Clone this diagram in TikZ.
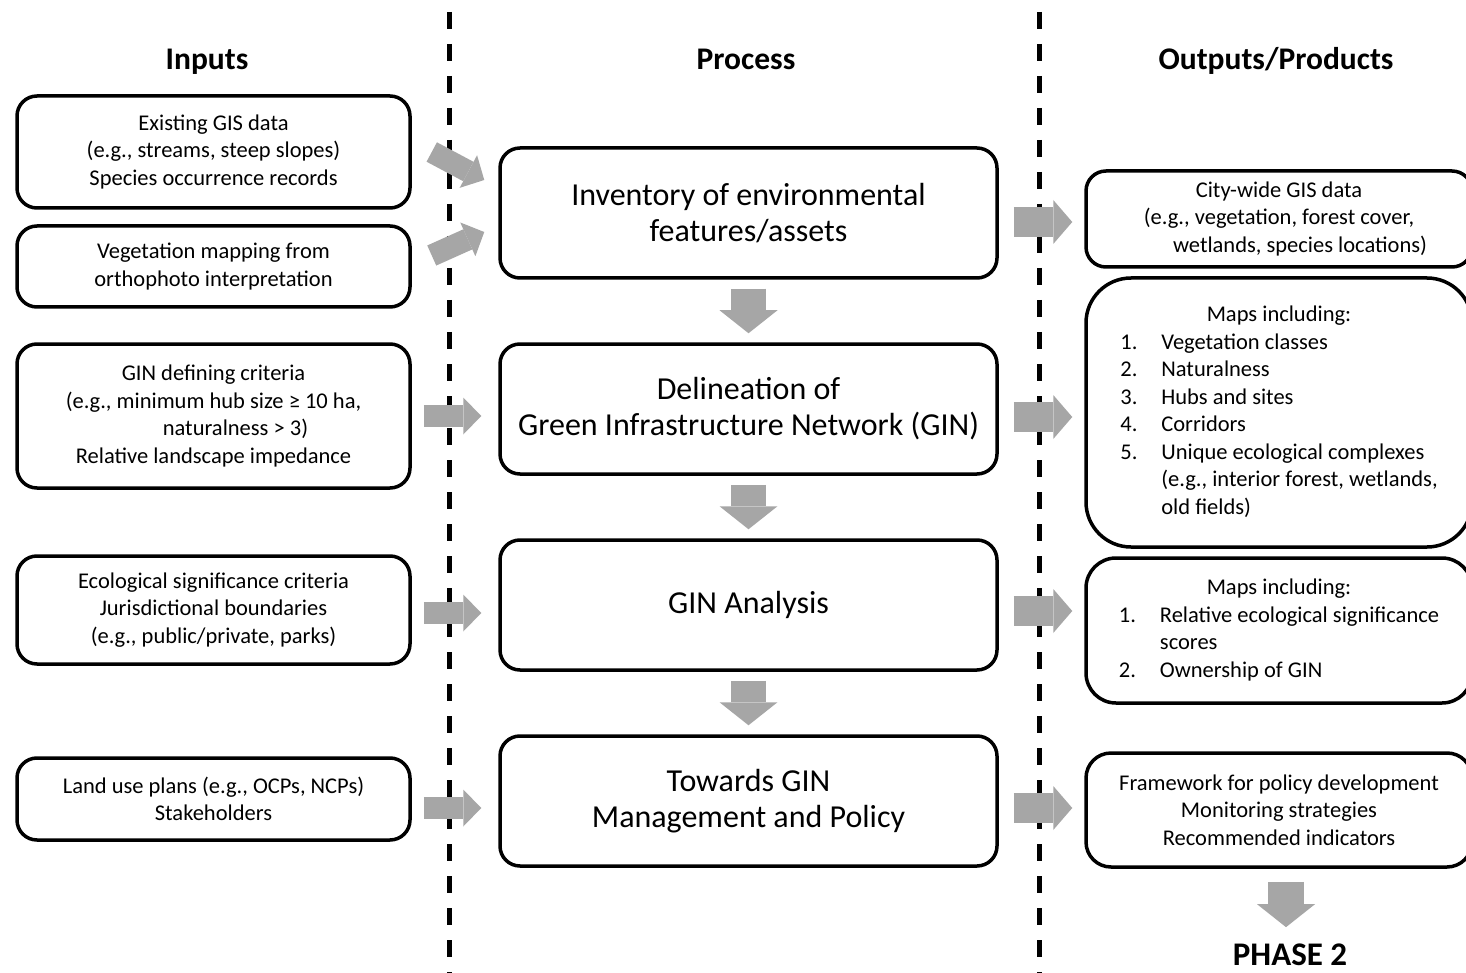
\documentclass[tikz,border=0pt]{standalone}
\usepackage{fontspec}
\setmainfont{Carlito}
\usetikzlibrary{arrows.meta,calc}
\definecolor{arrowgray}{RGB}{166,166,166}
\begin{document}
\begin{tikzpicture}[x=1pt,y=-1pt,
  box/.style={draw=black, line width=3.5pt, rounded corners=20pt, align=center, inner sep=0pt,
              font=\fontsize{22.5}{27.5}\selectfont},
  inbox/.style={box, minimum width=393pt},
  pbox/.style={box, minimum width=497pt, minimum height=130pt, font=\fontsize{32}{36}\selectfont},
  obox/.style={box, minimum width=386pt},
  hdr/.style={inner sep=0pt, anchor=base, font=\fontsize{31.5}{36}\selectfont\bfseries},
  dashline/.style={draw=black, line width=5pt, dash pattern=on 17pt off 15pt},
  larrow/.style={draw=arrowgray, line width=22pt, -{Triangle[length=18pt,width=37pt,line width=0pt]}},
  rarrow/.style={draw=arrowgray, line width=30pt, -{Triangle[length=19pt,width=44pt,line width=0pt]}},
  darrow/.style={draw=arrowgray, line width=35pt, -{Triangle[length=23pt,width=58pt,line width=0pt]}},
]
\clip (0,0) rectangle (1466,973);
\fill[white] (0,0) rectangle (1466,973);

% dashed separators
\coordinate (d1t) at (449,12);
\coordinate (d1b) at (449,980);
\coordinate (d2t) at (1039,12);
\coordinate (d2b) at (1039,980);
\draw[dashline] (d1t) -- (d1b);
\draw[dashline] (d2t) -- (d2b);

% headers
\node[hdr] (hin) at (207,70) {Inputs};
\node[hdr] (hpr) at (746,70) {Process};
\node[hdr] (hout) at (1276,70) {Outputs/Products};

% inputs
\node[inbox, minimum height=112pt] (in1) at (213.5,152) {Existing GIS data\\(e.g., streams, steep slopes)\\Species occurrence records};
\node[inbox, minimum height=81pt] (in2) at (213.5,266.5) {Vegetation mapping from\\orthophoto interpretation};
\node[inbox, minimum height=144pt] (in3) at (213.5,416) {GIN defining criteria\\(e.g., minimum hub size ≥ 10 ha,\\\hspace*{44pt}naturalness > 3)\\Relative landscape impedance};
\node[inbox, minimum height=108pt] (in4) at (213.5,610) {Ecological significance criteria\\Jurisdictional boundaries\\(e.g., public/private, parks)};
\node[inbox, minimum height=82pt] (in5) at (213.5,799) {Land use plans (e.g., OCPs, NCPs)\\Stakeholders};

% process
\node[pbox] (p1) at (748.5,213) {Inventory of environmental\\features/assets};
\node[pbox] (p2) at (748.5,409) {Delineation of\\Green Infrastructure Network (GIN)};
\node[pbox] (p3) at (748.5,605) {GIN Analysis};
\node[pbox] (p4) at (748.5,801) {Towards GIN\\Management and Policy};

% outputs
\node[obox, minimum height=96pt] (r1) at (1279,219) {City-wide GIS data\\(e.g., vegetation, forest cover,\\\hspace*{42pt}wetlands, species locations)};
\node[obox, minimum height=269pt, rounded corners=45pt] (r2) at (1279,412.5) {%
\begin{tabular}{@{}p{41pt}@{}l@{}}
\multicolumn{2}{c}{Maps including:}\\
1. & Vegetation classes\\
2. & Naturalness\\
3. & Hubs and sites\\
4. & Corridors\\
5. & Unique ecological complexes\\
 & (e.g., interior forest, wetlands,\\
 & old fields)
\end{tabular}};
\node[obox, minimum height=145pt, rounded corners=30pt] (r3) at (1279,630.5) {%
\begin{tabular}{@{}p{41pt}@{}l@{}}
\multicolumn{2}{c}{Maps including:}\\
1. & Relative ecological significance\\
 & scores\\
2. & Ownership of GIN
\end{tabular}};
\node[obox, minimum height=114pt, rounded corners=25pt] (r4) at (1279,810) {Framework for policy development\\Monitoring strategies\\Recommended indicators};
\node[inner sep=0pt, anchor=base, font=\fontsize{33}{36}\selectfont\bfseries] (ph) at (1290,965) {PHASE 2};

% input arrows
\draw[larrow] ([xshift=20pt]in1.east) -- ([xshift=-14pt,yshift=33pt]p1.west);
\draw[larrow] ([xshift=20pt,yshift=11pt]in2.east) -- ([xshift=-14pt,yshift=-19pt]p1.west);
\draw[larrow] ([xshift=12pt]in3.east) -- ([xshift=-17pt,yshift=-7pt]p2.west);
\draw[larrow] ([xshift=12pt,yshift=-3pt]in4.east) -- ([xshift=-17pt,yshift=-8pt]p3.west);
\draw[larrow] ([xshift=12pt,yshift=-9pt]in5.east) -- ([xshift=-17pt,yshift=-7pt]p4.west);

% process arrows
\draw[darrow] ([yshift=-9pt]p1.south) -- ([yshift=9pt]p2.north);
\draw[darrow] ([yshift=-9pt]p2.south) -- ([yshift=9pt]p3.north);
\draw[darrow] ([yshift=-9pt]p3.south) -- ([yshift=9pt]p4.north);

% output arrows
\draw[rarrow] ([xshift=15pt,yshift=-9pt]p1.east) -- ([xshift=-12pt,yshift=-3pt]r1.west);
\draw[rarrow] ([xshift=15pt,yshift=-8pt]p2.east) -- ([xshift=-12pt,yshift=-4.5pt]r2.west);
\draw[rarrow] ([xshift=15pt,yshift=-6pt]p3.east) -- ([xshift=-12pt,yshift=19.5pt]r3.west);
\draw[rarrow] ([xshift=15pt,yshift=-7pt]p4.east) -- ([xshift=-12pt,yshift=2pt]r4.west);

% phase 2 arrow
\draw[darrow, line width=36pt] ([xshift=7pt,yshift=-13pt]r4.south) -- ([xshift=-4pt,yshift=16pt]ph.north);
\end{tikzpicture}
\end{document}
